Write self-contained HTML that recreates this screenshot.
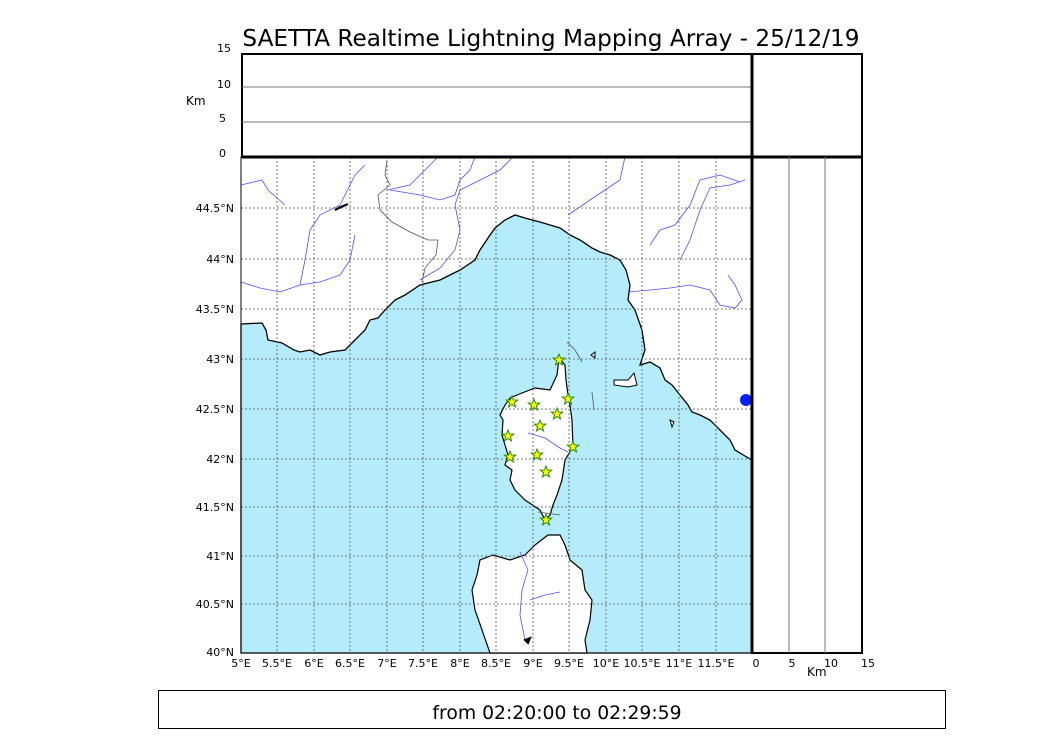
<!DOCTYPE html>
<html><head><style>body{margin:0;background:#fff}svg{display:block}text{font-family:"DejaVu Sans","Liberation Sans",sans-serif}</style></head><body>
<svg width="1050" height="750" xmlns="http://www.w3.org/2000/svg">
<rect width="1050" height="750" fill="#fff"/>
<text x="551" y="46" font-size="23.2" text-anchor="middle">SAETTA Realtime Lightning Mapping Array - 25/12/19</text>
<!-- sea -->
<path fill="#b5ecfc" stroke="#000" stroke-width="1.3" d="M241,324 L262,323 266,330 268,340 282,343 294,350 300,352 310,350 320,355 330,352 345,350 355,340 365,330 370,320 378,318 385,310 395,300 405,295 420,285 440,280 460,270 475,260 480,250 488,238 495,228 505,220 515,215 525,218 540,222 550,225 560,228 570,235 580,240 592,248 600,252 610,255 620,260 626,270 630,285 628,300 635,310 642,330 645,350 640,365 650,362 660,368 665,380 672,385 680,395 688,405 692,412 700,415 710,420 720,430 730,440 735,450 745,456 752,460 L752,653 L241,653 Z"/>
<!-- Corsica -->
<path fill="#fff" stroke="#000" stroke-width="1.2" d="M559,358 565,365 566,380 568,395 570,405 572,420 573,447 565,460 562,480 557,495 553,505 550,515 545,520 540,510 525,500 515,490 510,480 512,470 505,465 508,455 505,445 502,435 503,420 500,415 505,405 510,398 522,393 535,388 550,390 557,375 Z"/>
<!-- Sardinia -->
<path fill="#fff" stroke="#000" stroke-width="1.2" d="M548,535 560,535 565,545 570,560 582,570 585,590 592,600 590,620 585,640 587,653 490,653 482,630 475,610 472,590 477,575 480,560 493,555 510,560 525,555 535,545 Z"/>
<path fill="#fff" stroke="#000" d="M614,380 628,380 634,373 637,385 628,387 614,385Z M591,355 595,352 595,358Z M670,420 674,422 672,427Z"/>
<!-- rivers -->
<g fill="none" stroke="#5050ff" stroke-width="0.8">
<path d="M241,185 262,180 268,190 285,205"/>
<path d="M241,282 260,288 280,292 300,285 320,282 340,275 350,260 355,235"/>
<path d="M300,285 305,260 310,230 320,215 340,205 355,175 365,165"/>
<path d="M387,190 410,185 420,175 430,165 438,157"/>
<path d="M390,190 420,195 440,200 455,195 460,180 470,170 475,157"/>
<path d="M420,280 440,268 455,250 460,230 455,205 460,190 480,180 500,170 510,160 513,157"/>
<path d="M568,215 590,200 605,190 620,180 625,157"/>
<path d="M650,245 660,230 675,225 690,205 700,180 720,175 740,182"/>
<path d="M680,260 690,240 700,210 710,188 730,185 745,180"/>
<path d="M628,292 650,290 670,288 690,285 710,290 720,305 735,308 742,300 735,285 728,275"/>
<path d="M528,433 545,438 560,448 568,452"/>
<path d="M520,552 528,570 522,590 520,615 525,640"/>
<path d="M530,600 545,595 560,592"/>
</g>
<path d="M335,210 348,204 338,208Z M525,640 530,638 528,643Z" fill="#000" stroke="#000" stroke-width="2"/>
<!-- borders -->
<path d="M387,160 385,175 390,185 378,195 380,210 392,222 410,232 428,240 438,240 436,255 425,268 422,282" fill="none" stroke="#555" stroke-width="0.8"/>
<path d="M567,342 575,350 582,362 M538,512 560,515 M592,392 594,410" fill="none" stroke="#555" stroke-width="0.8"/>
<!-- grid -->
<g stroke="#555" stroke-width="0.8" stroke-dasharray="2,2">
<path d="M277,157V653 M314,157V653 M350,157V653 M387,157V653 M423,157V653 M460,157V653 M496,157V653 M533,157V653 M569,157V653 M606,157V653 M642,157V653 M679,157V653 M716,157V653"/>
<path d="M241,208H752 M241,259H752 M241,309H752 M241,359H752 M241,409H752 M241,459H752 M241,507H752 M241,556H752 M241,604H752"/>
</g>
<ellipse cx="746" cy="400" rx="6" ry="6" fill="#0020ff"/>
<!-- stars -->
<g fill="#ffff00" stroke="#2a8a00" stroke-width="1">
<path id="s" d="M0,-6 1.5,-2 5.7,-1.9 2.4,0.7 3.5,4.9 0,2.5 -3.5,4.9 -2.4,0.7 -5.7,-1.9 -1.5,-2Z" transform="translate(559,360)"/>
<use href="#s" x="-47" y="42"/><use href="#s" x="-25" y="45"/><use href="#s" x="9" y="39"/><use href="#s" x="-2" y="54"/><use href="#s" x="-19" y="66"/><use href="#s" x="-51" y="76"/><use href="#s" x="14" y="87"/><use href="#s" x="-22" y="95"/><use href="#s" x="-49" y="97"/><use href="#s" x="-13" y="112"/><use href="#s" x="-13" y="160"/>
</g>
<rect x="241" y="157" width="511" height="496" fill="none" stroke="#000" stroke-width="1"/>
<!-- top panel -->
<rect x="242" y="54" width="620" height="103" fill="none" stroke="#000" stroke-width="2"/>
<path d="M242,87H752 M242,122H752" stroke="#777" stroke-width="1"/>
<path d="M752,54V653 M242,157H862" stroke="#000" stroke-width="3"/>
<rect x="752" y="157" width="110" height="496" fill="none" stroke="#000" stroke-width="2"/>
<path d="M789,157V653 M825,157V653" stroke="#777" stroke-width="1"/>
<g font-size="11" text-anchor="end">
<text x="231" y="52">15</text><text x="231" y="88">10</text><text x="226" y="122">5</text><text x="226" y="157">0</text>
<text x="234" y="212">44.5°N</text><text x="234" y="263">44°N</text><text x="234" y="313">43.5°N</text><text x="234" y="363">43°N</text><text x="234" y="413">42.5°N</text><text x="234" y="463">42°N</text><text x="234" y="511">41.5°N</text><text x="234" y="560">41°N</text><text x="234" y="608">40.5°N</text><text x="234" y="656">40°N</text>
</g>
<text x="186" y="105" font-size="12">Km</text>
<g font-size="11" text-anchor="middle">
<text x="241" y="667">5°E</text><text x="277" y="667">5.5°E</text><text x="314" y="667">6°E</text><text x="350" y="667">6.5°E</text><text x="387" y="667">7°E</text><text x="423" y="667">7.5°E</text><text x="460" y="667">8°E</text><text x="496" y="667">8.5°E</text><text x="533" y="667">9°E</text><text x="569" y="667">9.5°E</text><text x="606" y="667">10°E</text><text x="642" y="667">10.5°E</text><text x="679" y="667">11°E</text><text x="716" y="667">11.5°E</text>
<text x="756" y="667">0</text><text x="792" y="667">5</text><text x="831" y="667">10</text><text x="868" y="667">15</text>
</g>
<text x="807" y="676" font-size="12">Km</text>
<rect x="158.5" y="690.5" width="787" height="38" fill="none" stroke="#000" stroke-width="1"/>
<text x="557" y="719" font-size="18.8" text-anchor="middle">from 02:20:00 to 02:29:59</text>
</svg>
</body></html>
